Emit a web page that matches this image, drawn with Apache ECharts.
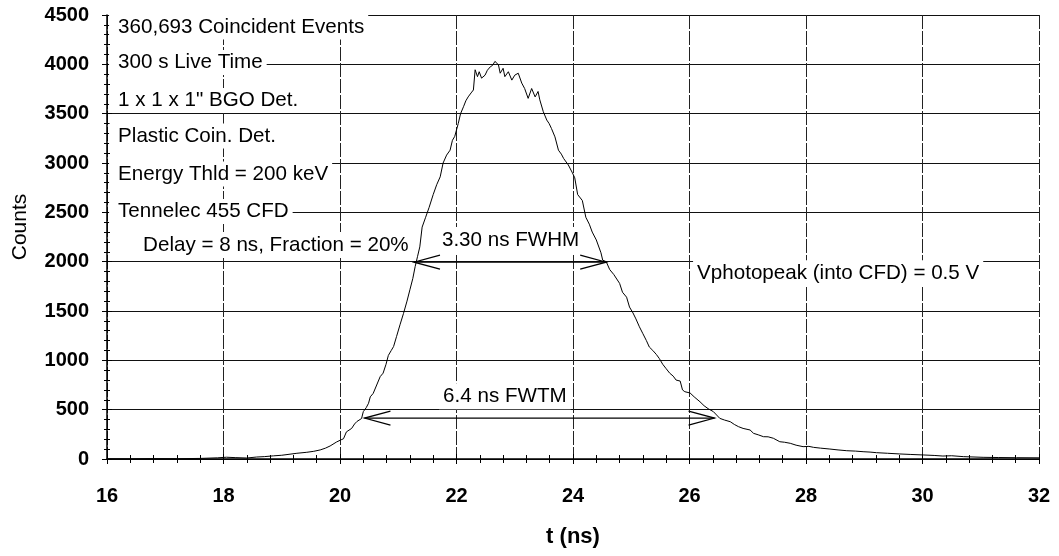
<!DOCTYPE html>
<html>
<head>
<meta charset="utf-8">
<script src="https://cdn.jsdelivr.net/npm/echarts@6/dist/echarts.min.js"></script>
<style>
  html, body { margin: 0; padding: 0; background: #fff; }
  #chart { width: 1059px; height: 556px; }
</style>
</head>
<body>
<div id="chart"></div>
<script>
// Coincidence timing spectrum: time (ns) vs counts
const times = [
  16.0, 16.4, 16.8, 17.2, 17.6, 17.9, 18.05, 18.2, 18.4, 18.57, 18.7, 18.86, 19.0, 19.26, 19.43, 19.55,
  19.66, 19.75, 19.83, 19.94, 20.02, 20.06, 20.11, 20.2, 20.25, 20.29, 20.37, 20.4, 20.45, 20.49, 20.52,
  20.57, 20.63, 20.69, 20.74, 20.79, 20.83, 20.88, 20.92, 20.97, 21.03, 21.09, 21.15, 21.2, 21.25, 21.29,
  21.33, 21.37, 21.41, 21.47, 21.53, 21.6, 21.66, 21.72, 21.77, 21.83, 21.89, 21.93, 21.97, 22.03, 22.07,
  22.12, 22.16, 22.2, 22.25, 22.29, 22.32, 22.36, 22.39, 22.43, 22.49, 22.53, 22.58, 22.62, 22.66, 22.72,
  22.75, 22.8, 22.83, 22.89, 22.95, 23.0, 23.06, 23.12, 23.17, 23.23, 23.29, 23.35, 23.4, 23.43, 23.49,
  23.55, 23.59, 23.63, 23.69, 23.75, 23.8, 23.84, 23.92, 23.99, 24.03, 24.08, 24.16, 24.22, 24.28, 24.33,
  24.4, 24.48, 24.51, 24.57, 24.63, 24.7, 24.8, 24.85, 24.92, 24.97, 25.03, 25.08, 25.14, 25.2, 25.26,
  25.31, 25.37, 25.43, 25.48, 25.54, 25.6, 25.66, 25.72, 25.77, 25.84, 25.88, 25.92, 26.01, 26.08, 26.18,
  26.25, 26.32, 26.41, 26.52, 26.6, 26.7, 26.77, 26.84, 26.92, 27.04, 27.1, 27.18, 27.27, 27.35, 27.44,
  27.55, 27.63, 27.73, 27.83, 27.95, 28.05, 28.13, 28.25, 28.41, 28.55, 28.7, 28.85, 28.98, 29.1, 29.21,
  29.4, 29.61, 29.8, 30.01, 30.2, 30.35, 30.5, 30.7, 31.04, 31.3, 31.61, 32.0
];
const counts = [
  3, 2, 4, 3, 6, 12, 18, 14, 10, 20, 24, 32, 38, 58, 68, 78,
  92, 110, 132, 172, 195, 205, 275, 310, 355, 380, 410, 480, 520, 565, 630,
  665, 750, 835, 870, 960, 1050, 1100, 1140, 1240, 1360, 1475, 1600, 1715, 1830, 1950,
  2050, 2150, 2350, 2450, 2550, 2680, 2780, 2860, 3000, 3080, 3130, 3230, 3270, 3400, 3500,
  3570, 3630, 3670, 3710, 3740, 3945, 3875, 3925, 3860, 3890, 3940, 3975, 3990, 4030, 3995,
  3910, 3960, 3875, 3925, 3840, 3890, 3910, 3810, 3755, 3655, 3755, 3670, 3725, 3640, 3520,
  3435, 3400, 3350, 3265, 3130, 3090, 3045, 2980, 2900, 2850, 2680, 2620, 2450, 2380, 2300,
  2220, 2090, 2015, 2000, 1920, 1870, 1780, 1690, 1640, 1540, 1480, 1420, 1340, 1270, 1200,
  1135, 1100, 1060, 1020, 960, 915, 870, 840, 800, 790, 700, 682, 669, 630, 580,
  540, 510, 480, 412, 395, 378, 350, 328, 310, 294, 260, 245, 226, 225, 210,
  175, 170, 159, 140, 125, 128, 118, 110, 101, 92, 84, 80, 74, 70, 64,
  58, 51, 46, 41, 36, 30, 33, 24, 17, 15, 13, 12
];

// Axis ranges: [min, max, interval]
const timeRange = [16, 32, 2];
const countRange = [0, 4500, 500];

// Width markers (double-headed arrows): start time, end time, count level
const arrowFrom = [21.27, 20.42];
const arrowTo = [24.57, 26.43];
const arrowLevel = [1995, 415];

// Text notes placed in data coordinates (left edge of text, vertical middle)
const noteText = [
  '360,693 Coincident Events',
  '300 s Live Time',
  '1 x 1 x 1" BGO Det.',
  'Plastic Coin. Det.',
  'Energy Thld = 200 keV',
  'Tennelec 455 CFD',
  'Delay = 8 ns, Fraction = 20%',
  '3.30 ns FWHM',
  '6.4 ns FWTM',
  'Vphotopeak (into CFD) = 0.5 V'
];
const noteT = [16.19, 16.19, 16.19, 16.19, 16.19, 16.19, 16.62, 21.75, 21.77, 26.13];
const noteV = [4378, 4019, 3633, 3274, 2889, 2508, 2169, 2220, 635, 1882];

const FONT = '"Liberation Sans", Arial, Helvetica, sans-serif';

const spectrum = times.map((t, i) => [t, counts[i]]);
const arrows = arrowFrom.map((a, i) => [a, arrowTo[i], arrowLevel[i]]);
const notes = noteText.map((s, i) => [noteT[i], noteV[i], i]);

function baseAxis(range) {
  return { type: 'value', min: range[0], max: range[1], interval: range[2] };
}

const chart = echarts.init(document.getElementById('chart'), null, { renderer: 'canvas' });

chart.setOption({
  animation: false,
  backgroundColor: '#ffffff',
  grid: { left: 107, right: 20, top: 15, bottom: 97 },
  xAxis: [
    Object.assign(baseAxis(timeRange), {
      position: 'bottom',
      name: 't (ns)',
      nameLocation: 'middle',
      nameGap: 67,
      nameTextStyle: { fontFamily: FONT, fontSize: 22, fontWeight: 'bold', color: '#000' },
      axisLine: { show: true, onZero: false, lineStyle: { color: '#000', width: 1.5 } },
      axisTick: { show: true, inside: true, length: 5, lineStyle: { color: '#000', width: 1 } },
      minorTick: { show: true, splitNumber: 5, length: 4, lineStyle: { color: '#000', width: 1 } },
      axisLabel: { fontFamily: FONT, fontSize: 20, fontWeight: 'bold', color: '#000', margin: 27 },
      splitLine: { show: true, lineStyle: { color: '#222', width: 1, type: [14, 2] } }
    }),
    Object.assign(baseAxis(timeRange), {
      position: 'bottom',
      axisLine: { show: false, onZero: false },
      axisTick: { show: true, inside: false, length: 5, lineStyle: { color: '#000', width: 1 } },
      minorTick: { show: true, splitNumber: 5, length: 4, lineStyle: { color: '#000', width: 1 } },
      axisLabel: { show: false },
      splitLine: { show: false }
    })
  ],
  yAxis: [
    Object.assign(baseAxis(countRange), {
      position: 'left',
      name: 'Counts',
      nameLocation: 'middle',
      nameGap: 76,
      nameTextStyle: { fontFamily: FONT, fontSize: 21, color: '#000', padding: [0, 0, 0, 20] },
      axisLine: { show: true, onZero: false, lineStyle: { color: '#000', width: 1.5 } },
      axisTick: { show: true, inside: true, length: 5, lineStyle: { color: '#000', width: 1 } },
      minorTick: { show: true, splitNumber: 5, length: 3, lineStyle: { color: '#000', width: 1 } },
      axisLabel: {
        fontFamily: FONT, fontSize: 20, fontWeight: 'bold', color: '#000', margin: 18,
        formatter: function (v) { return String(v); }
      },
      splitLine: { show: true, lineStyle: { color: '#111', width: 1.2 } }
    }),
    Object.assign(baseAxis(countRange), {
      position: 'left',
      axisLine: { show: false, onZero: false },
      axisTick: { show: true, inside: false, length: 5, lineStyle: { color: '#000', width: 1 } },
      minorTick: { show: true, splitNumber: 5, length: 3, lineStyle: { color: '#000', width: 1 } },
      axisLabel: { show: false },
      splitLine: { show: false }
    })
  ],
  series: [
    {
      name: 'Counts',
      type: 'line',
      data: spectrum,
      showSymbol: false,
      symbol: 'none',
      lineStyle: { color: '#000', width: 1 },
      z: 3
    },
    {
      // FWHM / FWTM double-headed arrows with open heads
      type: 'custom',
      data: arrows,
      encode: { x: [0, 1], y: 2 },
      clip: false,
      z: 4,
      renderItem: function (params, api) {
        const a = api.coord([api.value(0), api.value(2)]);
        const b = api.coord([api.value(1), api.value(2)]);
        const hl = 26, hw = 7;
        const st = { stroke: '#000', lineWidth: 1.2, fill: 'none' };
        return {
          type: 'group',
          children: [
            { type: 'line', shape: { x1: a[0], y1: a[1], x2: b[0], y2: b[1] }, style: st },
            { type: 'polyline', shape: { points: [[a[0] + hl, a[1] - hw], [a[0], a[1]], [a[0] + hl, a[1] + hw]] }, style: st },
            { type: 'polyline', shape: { points: [[b[0] - hl, b[1] - hw], [b[0], b[1]], [b[0] - hl, b[1] + hw]] }, style: st }
          ]
        };
      }
    },
    {
      // Text notes on white boxes
      type: 'custom',
      data: notes,
      encode: { x: 0, y: 1 },
      clip: false,
      z: 5,
      renderItem: function (params, api) {
        const p = api.coord([api.value(0), api.value(1)]);
        const idx = api.value(2);
        const pad = idx < 6 ? [2, 4, 2, 9] : [3, 4, 2, 4];
        return {
          type: 'text',
          x: p[0] - pad[3],
          y: p[1],
          style: {
            text: noteText[idx],
            font: '20.6px ' + FONT,
            fill: '#000',
            align: 'left',
            verticalAlign: 'middle',
            backgroundColor: '#fff',
            padding: pad
          }
        };
      }
    }
  ]
});
</script>
</body>
</html>
